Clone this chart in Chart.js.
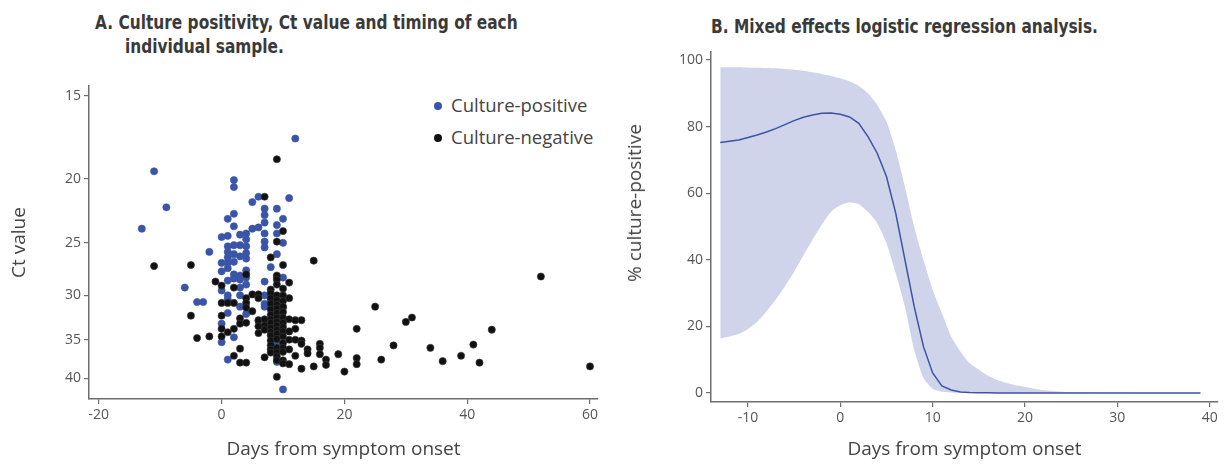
<!DOCTYPE html>
<html>
<head>
<meta charset="utf-8">
<script src="https://cdn.jsdelivr.net/npm/chart.js@4.4.1/dist/chart.umd.min.js"></script>
<style>
  body { margin: 0; background: #fff; width: 1229px; height: 465px; position: relative; overflow: hidden; font-family: "Open Sans", sans-serif; }
  canvas { position: absolute; top: 0; }
  .titulo { position: absolute; font-family: "Liberation Sans Narrow", "DejaVu Sans Condensed", Roboto, sans-serif; font-weight: bold; font-size: 19px; line-height: 1; color: #3a3a3a; white-space: nowrap; transform: scaleX(0.9); transform-origin: left top; }
  .legenda { position: absolute; left: 434px; font-size: 18.5px; line-height: 20px; color: #444; white-space: nowrap; }
  .legenda span { display: inline-block; width: 8px; height: 8px; border-radius: 50%; margin-right: 9px; vertical-align: 2px; }
  .titulo-eixo-y { position: absolute; font-size: 19px; line-height: 20px; color: #444; white-space: nowrap; transform: translate(-50%, -50%) rotate(-90deg); }
</style>
</head>
<body>
<div class="titulo" style="left:95px; top:13px;">A. Culture positivity, Ct value and timing of each</div>
<div class="titulo" style="left:125px; top:37px;">individual sample.</div>
<div class="titulo" style="left:711px; top:17px;">B. Mixed effects logistic regression analysis.</div>
<div class="legenda" style="top:95px;"><span style="background:#3a55a8"></span>Culture-positive</div>
<div class="legenda" style="top:127px;"><span style="background:#111"></span>Culture-negative</div>

<canvas id="graficoA" width="615" height="465" style="left:0"></canvas>
<canvas id="graficoB" width="614" height="465" style="left:615px"></canvas>
<div class="titulo-eixo-y" style="left:634px; top:203px;">% culture-positive</div>

<script>
// painel A: [dia desde inicio dos sintomas, valor Ct]
const culturaPositiva = [
  [-13, 23.8], [-11, 19.5], [-9, 22.1], [-6, 29.2], [-4, 30.7], [-3, 30.7], [-2, 25.8],
  [0, 24.5], [0, 26.8], [0, 27.6], [0, 29.5], [0, 33.1], [0, 35.3],
  [1, 23.0], [1, 24.4], [1, 25.3], [1, 25.8], [1, 26.3], [1, 26.8], [1, 27.3], [1, 28.5], [1, 30.0], [1, 30.4], [1, 31.9], [1, 37.5],
  [2, 20.1], [2, 20.6], [2, 22.6], [2, 23.6], [2, 25.2], [2, 26.0], [2, 26.7], [2, 27.9], [2, 28.3], [2, 34.7],
  [3, 24.3], [3, 25.2], [3, 26.2], [3, 28.0], [3, 28.4], [3, 29.2], [3, 30.0], [3, 31.2],
  [4, 24.2], [4, 24.7], [4, 25.3], [4, 25.9], [4, 26.4], [4, 27.5], [4, 28.2], [4, 28.9], [4, 32.0],
  [5, 21.7], [5, 23.8],
  [6, 21.3], [6, 23.7], [6, 32.8],
  [7, 22.2], [7, 22.7], [7, 23.3], [7, 24.2], [7, 24.9], [7, 25.4], [7, 28.6], [7, 30.0], [7, 30.9], [7, 31.2],
  [8, 27.2], [8, 29.9], [8, 30.5], [8, 31.1],
  [9, 22.2], [9, 23.5], [9, 24.2], [9, 26.0], [9, 28.2], [9, 35.3], [9, 37.8],
  [10, 23.0], [10, 25.0], [10, 28.2], [10, 31.3], [10, 41.6],
  [11, 21.4], [12, 17.4],
];

const culturaNegativa = [
  [-11, 27.1], [-5, 27.0], [-5, 32.2], [-4, 34.8], [-2, 34.6], [-1, 28.6],
  [0, 29.0], [0, 30.8], [0, 32.2], [0, 33.7], [0, 34.6],
  [1, 30.8], [1, 34.1],
  [2, 29.2], [2, 30.8], [2, 33.7], [2, 37.0],
  [3, 32.5], [3, 33.1], [3, 36.1], [3, 37.9],
  [4, 27.9], [4, 30.3], [4, 30.8], [4, 31.3], [4, 33.0], [4, 37.9],
  [5, 29.9], [5, 31.7],
  [6, 29.9], [6, 30.3], [6, 32.7], [6, 33.4], [6, 34.2],
  [7, 21.3], [7, 32.6], [7, 33.3], [7, 33.8], [7, 37.2],
  [8, 26.3], [8, 29.4], [8, 29.8], [8, 30.3], [8, 30.9], [8, 31.5], [8, 32.1], [8, 32.6], [8, 33.0], [8, 33.6],
  [8, 34.1], [8, 34.5], [8, 35.1], [8, 35.7], [8, 36.2], [8, 36.6],
  [9, 18.7], [9, 24.9], [9, 28.0], [9, 28.4], [9, 28.9], [9, 30.0], [9, 30.5], [9, 31.0], [9, 31.4], [9, 31.9],
  [9, 32.4], [9, 32.9], [9, 33.3], [9, 33.8], [9, 34.3], [9, 34.9], [9, 36.0], [9, 36.6], [9, 37.1], [9, 37.6], [9, 39.8],
  [10, 24.0], [10, 27.0], [10, 29.3], [10, 30.0], [10, 30.6], [10, 31.2], [10, 31.8], [10, 32.4], [10, 33.0],
  [10, 33.5], [10, 34.0], [10, 34.6], [10, 35.4], [10, 36.0], [10, 36.5], [10, 37.6], [10, 38.0],
  [11, 28.7], [11, 30.3], [11, 32.6], [11, 34.0], [11, 35.0], [11, 36.2], [11, 38.1],
  [12, 32.7], [12, 33.7], [12, 35.0], [12, 37.0],
  [13, 32.7], [13, 35.1], [13, 35.5], [13, 38.7],
  [14, 36.2], [14, 36.7], [15, 26.6], [15, 38.4],
  [16, 35.5], [16, 36.0], [16, 36.8], [17, 37.5], [17, 38.2],
  [19, 36.8], [20, 39.1], [22, 33.7], [22, 37.3], [22, 38.1],
  [25, 31.2], [26, 37.5], [28, 35.7], [30, 32.9], [31, 32.4], [34, 36.0], [36, 37.7],
  [39, 37.0], [41, 35.6], [42, 37.9], [44, 33.8], [52, 28.1], [60, 38.4],
];

const ticksCt = [15, 20, 25, 30, 35, 40];
const ticksDiasA = [-20, 0, 20, 40, 60];

// painel B: modelo logistico de efeitos mistos
const diasModelo = [-13, -12, -11, -10, -9, -8, -7, -6, -5, -4, -3, -2, -1, 0, 1, 2, 3, 4, 5, 6, 7, 8, 9, 10, 11, 12, 13,
  14, 15, 16, 17, 18, 19, 20, 21, 22, 23, 24, 25, 26, 27, 28, 29, 30, 31, 32, 33, 34, 35, 36, 37, 38, 39];
const percentAjustada = [75.2, 75.6, 76.0, 76.7, 77.5, 78.4, 79.4, 80.6, 81.8, 82.8, 83.5, 84.0, 84.1, 83.7, 82.9, 81.0, 77.0,
  72.0, 65.0, 54.0, 40.0, 26.0, 14.0, 6.0, 2.1, 0.9, 0.3,
  0.15, 0.1, 0.1, 0, 0, 0, 0, 0, 0, 0, 0, 0, 0, 0, 0, 0, 0, 0, 0, 0, 0, 0, 0, 0, 0, 0];
const limiteSuperior = [97.8, 97.8, 97.8, 97.7, 97.7, 97.6, 97.5, 97.3, 97.1, 96.8, 96.3, 95.8, 95.2, 94.5, 93.6, 92.2, 90.0,
  86.5, 81.5, 73.0, 62.0, 50.0, 40.0, 31.0, 24.0, 17.0, 12.5,
  9.0, 7.0, 5.2, 3.9, 3.0, 2.3, 1.8, 1.3, 0.9, 0.6, 0.4, 0.3, 0.2, 0.15, 0.1, 0.1, 0.05, 0.05, 0, 0, 0, 0, 0, 0, 0, 0];
const limiteInferior = [16.4, 17.0, 17.7, 19.2, 21.4, 24.5, 28.0, 32.0, 36.4, 41.3, 46.0, 50.5, 54.4, 56.4, 57.2, 56.7, 54.4,
  51.0, 45.0, 36.0, 26.0, 13.0, 4.5, 1.3, 0.4, 0.15, 0.05,
  0, 0, 0, 0, 0, 0, 0, 0, 0, 0, 0, 0, 0, 0, 0, 0, 0, 0, 0, 0, 0, 0, 0, 0, 0, 0];

const ticksPercent = [0, 20, 40, 60, 80, 100];
const ticksDiasB = [-10, 0, 10, 20, 30, 40];

const COR_EIXO = "#6e6e6e";
const FONTE_TICK = { family: "Open Sans", size: 14 };
const FONTE_TITULO_EIXO = { family: "Open Sans", size: 19 };

/**
 * opcoes comuns de um eixo (linha, tracinhos, rotulos)
 */
function eixoBase(ticksFixos, titulo, tamanho, vertical) {
  return {
    border: { display: true, color: COR_EIXO, width: 1.5 },
    grid: { display: true, drawOnChartArea: false, drawTicks: true, tickLength: 5, color: COR_EIXO, lineWidth: 1.2 },
    ticks: { color: "#555", font: FONTE_TICK, padding: 3, autoSkip: false, maxRotation: 0, callback: v => String(v) },
    title: { display: !!titulo, text: titulo, color: "#444", font: FONTE_TITULO_EIXO, padding: vertical ? { top: 8, bottom: 0 } : { top: 0, bottom: 4 } },
    afterBuildTicks: s => { s.ticks = ticksFixos.map(v => ({ value: v })); },
    afterFit: s => { if (vertical) s.width = tamanho; else s.height = tamanho; },
  };
}

const paraPontos = lista => lista.map(([d, ct]) => ({ x: d, y: ct }));

new Chart(document.getElementById("graficoA"), {
  type: "scatter",
  data: {
    datasets: [
      { label: "Culture-negative", data: paraPontos(culturaNegativa), backgroundColor: "#111", borderColor: "#3a3a3a", borderWidth: 0.6, pointRadius: 3.6 },
      { label: "Culture-positive", data: paraPontos(culturaPositiva), backgroundColor: "#3a55a8", borderColor: "#3a55a8", borderWidth: 0.6, pointRadius: 3.6 },
    ],
  },
  options: {
    responsive: false,
    animation: false,
    layout: { padding: { left: 0, top: 86, right: 17, bottom: 0 } },
    plugins: { legend: { display: false }, tooltip: { enabled: false } },
    scales: {
      x: Object.assign(eixoBase(ticksDiasA, "Days from symptom onset", 66, false), { type: "linear", min: -21.6, max: 61.3 }),
      y: Object.assign(eixoBase(ticksCt, "Ct value", 89, true), { type: "logarithmic", reverse: true, min: 14.5, max: 43 }),
    },
  },
});

const xyModelo = valores => diasModelo.map((d, i) => ({ x: d, y: valores[i] }));

new Chart(document.getElementById("graficoB"), {
  type: "line",
  data: {
    datasets: [
      { label: "ajustado", data: xyModelo(percentAjustada), borderColor: "#3d53a6", borderWidth: 1.5, pointRadius: 0, fill: false, tension: 0 },
      { label: "superior", data: xyModelo(limiteSuperior), borderWidth: 0, pointRadius: 0, backgroundColor: "#cfd4ea", fill: "+1", tension: 0.2 },
      { label: "inferior", data: xyModelo(limiteInferior), borderWidth: 0, pointRadius: 0, fill: false, tension: 0.2 },
    ],
  },
  options: {
    responsive: false,
    animation: false,
    layout: { padding: { left: 0, top: 52, right: 11, bottom: 0 } },
    plugins: { legend: { display: false }, tooltip: { enabled: false } },
    scales: {
      x: Object.assign(eixoBase(ticksDiasB, "Days from symptom onset", 63, false), { type: "linear", min: -14, max: 40.9 }),
      // titulo do eixo y fica em html, deslocado para cima como no original
      y: Object.assign(eixoBase(ticksPercent, "", 96, true), { type: "linear", min: -2.7, max: 102.4 }),
    },
  },
});
</script>
</body>
</html>
